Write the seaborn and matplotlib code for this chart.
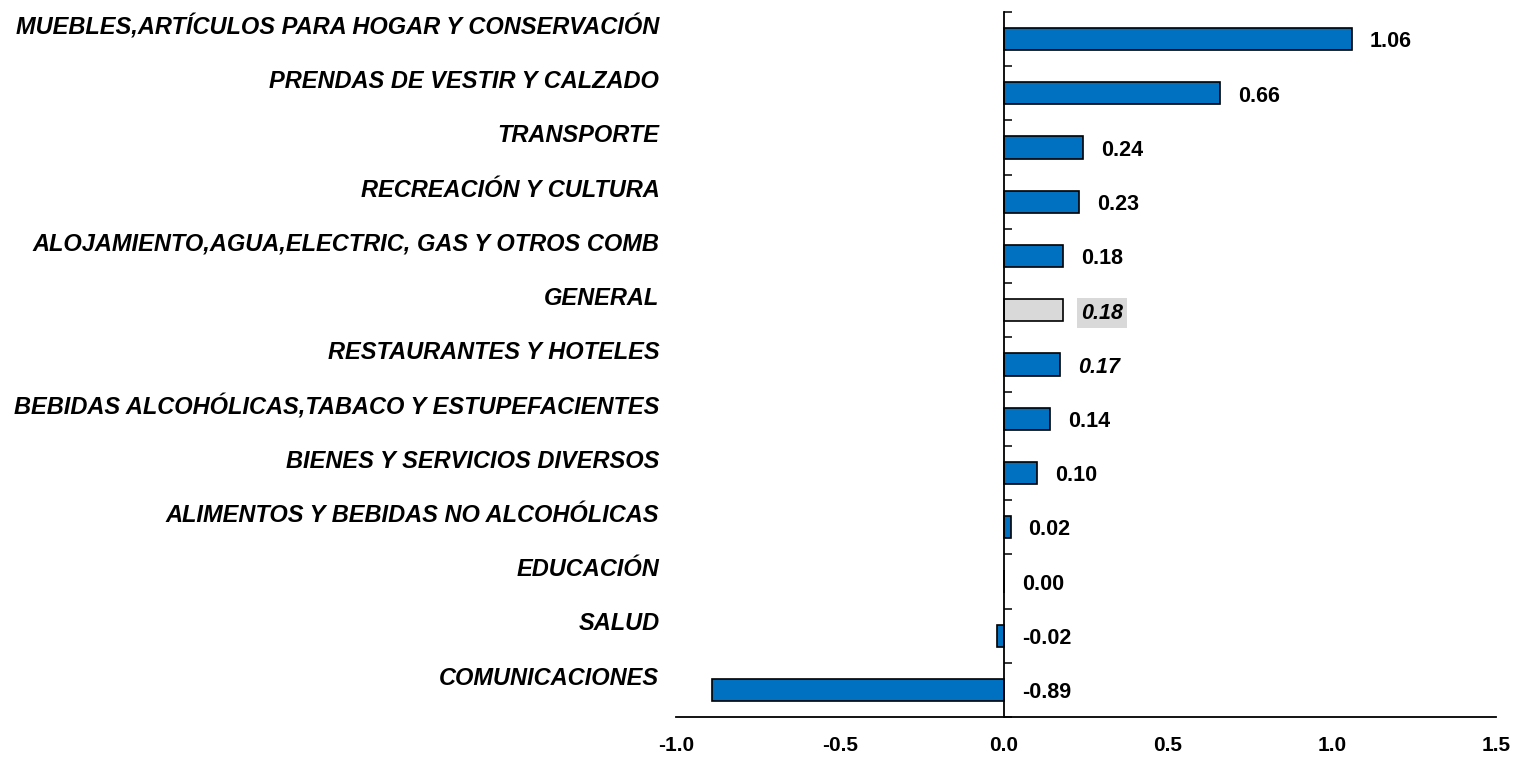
import matplotlib
matplotlib.use("Agg")
import matplotlib.pyplot as plt
import seaborn as sns
import pandas as pd
from matplotlib.ticker import FixedLocator, NullFormatter

categories = [
    "MUEBLES,ARTÍCULOS PARA HOGAR Y CONSERVACIÓN",
    "PRENDAS DE VESTIR Y CALZADO",
    "TRANSPORTE",
    "RECREACIÓN Y CULTURA",
    "ALOJAMIENTO,AGUA,ELECTRIC, GAS Y OTROS COMB",
    "GENERAL",
    "RESTAURANTES Y HOTELES",
    "BEBIDAS ALCOHÓLICAS,TABACO Y ESTUPEFACIENTES",
    "BIENES Y SERVICIOS DIVERSOS",
    "ALIMENTOS Y BEBIDAS NO ALCOHÓLICAS",
    "EDUCACIÓN",
    "SALUD",
    "COMUNICACIONES",
]
values = [1.06, 0.66, 0.24, 0.23, 0.18, 0.18, 0.17, 0.14, 0.10, 0.02, 0.00, -0.02, -0.89]
x_ticks = [-1.0, -0.5, 0.0, 0.5, 1.0, 1.5]

BLUE = "#0070C0"
GRAY = "#D9D9D9"
colors = [GRAY if c == "GENERAL" else BLUE for c in categories]

sns.set_theme(style="white")
plt.rcParams["font.family"] = ["Liberation Sans", "DejaVu Sans"]
plt.rcParams["text.color"] = "black"
plt.rcParams["xtick.color"] = "black"
plt.rcParams["ytick.color"] = "black"

df = pd.DataFrame({"cat": categories, "val": values})

fig = plt.figure(figsize=(15.13, 7.58), dpi=100)
ax = fig.add_axes([676 / 1513, 1 - 717 / 758, (1496 - 676) / 1513, (717 - 12) / 758])

sns.barplot(data=df, y="cat", x="val", hue="cat", palette=colors, order=categories,
            hue_order=categories, orient="h", width=0.41, edgecolor="black",
            linewidth=1.2, legend=False, ax=ax, saturation=1)

ax.set_xlim(-1.0, 1.5)
ax.set_ylim(len(categories) - 0.5, -0.5)
ax.set_xlabel("")
ax.set_ylabel("")

for s in ["top", "right"]:
    ax.spines[s].set_visible(False)
ax.spines["left"].set_position(("data", 0))
for s in ["left", "bottom"]:
    ax.spines[s].set_color("black")
    ax.spines[s].set_linewidth(1.3)

ax.set_xticks(x_ticks)
ax.set_xticklabels([f"{t:.1f}" for t in x_ticks], fontsize=15, fontweight="bold", color="black")
ax.tick_params(axis="x", direction="in", length=5, width=1.2, color="black", pad=14)

ax.set_yticks(range(len(categories)))
ax.yaxis.set_major_formatter(NullFormatter())
ax.yaxis.set_minor_locator(FixedLocator([i - 0.5 for i in range(len(categories) + 1)]))
ax.tick_params(axis="y", which="major", direction="in", length=3, width=1.1, color="black")
ax.tick_params(axis="y", which="minor", direction="in", length=6, width=1.1, color="black", left=True)
ax.grid(False)

for i, (c, v) in enumerate(zip(categories, values)):
    ax.annotate(c, xy=(0, i), xycoords=("axes fraction", "data"), xytext=(-12, 8.5),
                textcoords="offset points", ha="right", va="center", color="black",
                fontsize=17, fontweight="bold", fontstyle="italic")
    italic = c in ("GENERAL", "RESTAURANTES Y HOTELES")
    bbox = dict(facecolor=GRAY, edgecolor="none", pad=3) if c == "GENERAL" else None
    ax.annotate(f"{v:.2f}", xy=(max(v, 0), i), xytext=(13, -2), textcoords="offset points",
                ha="left", va="center", fontsize=15.5, fontweight="bold", color="black",
                fontstyle="italic" if italic else "normal", bbox=bbox)

fig.savefig("out.png", dpi=100, facecolor="white")
